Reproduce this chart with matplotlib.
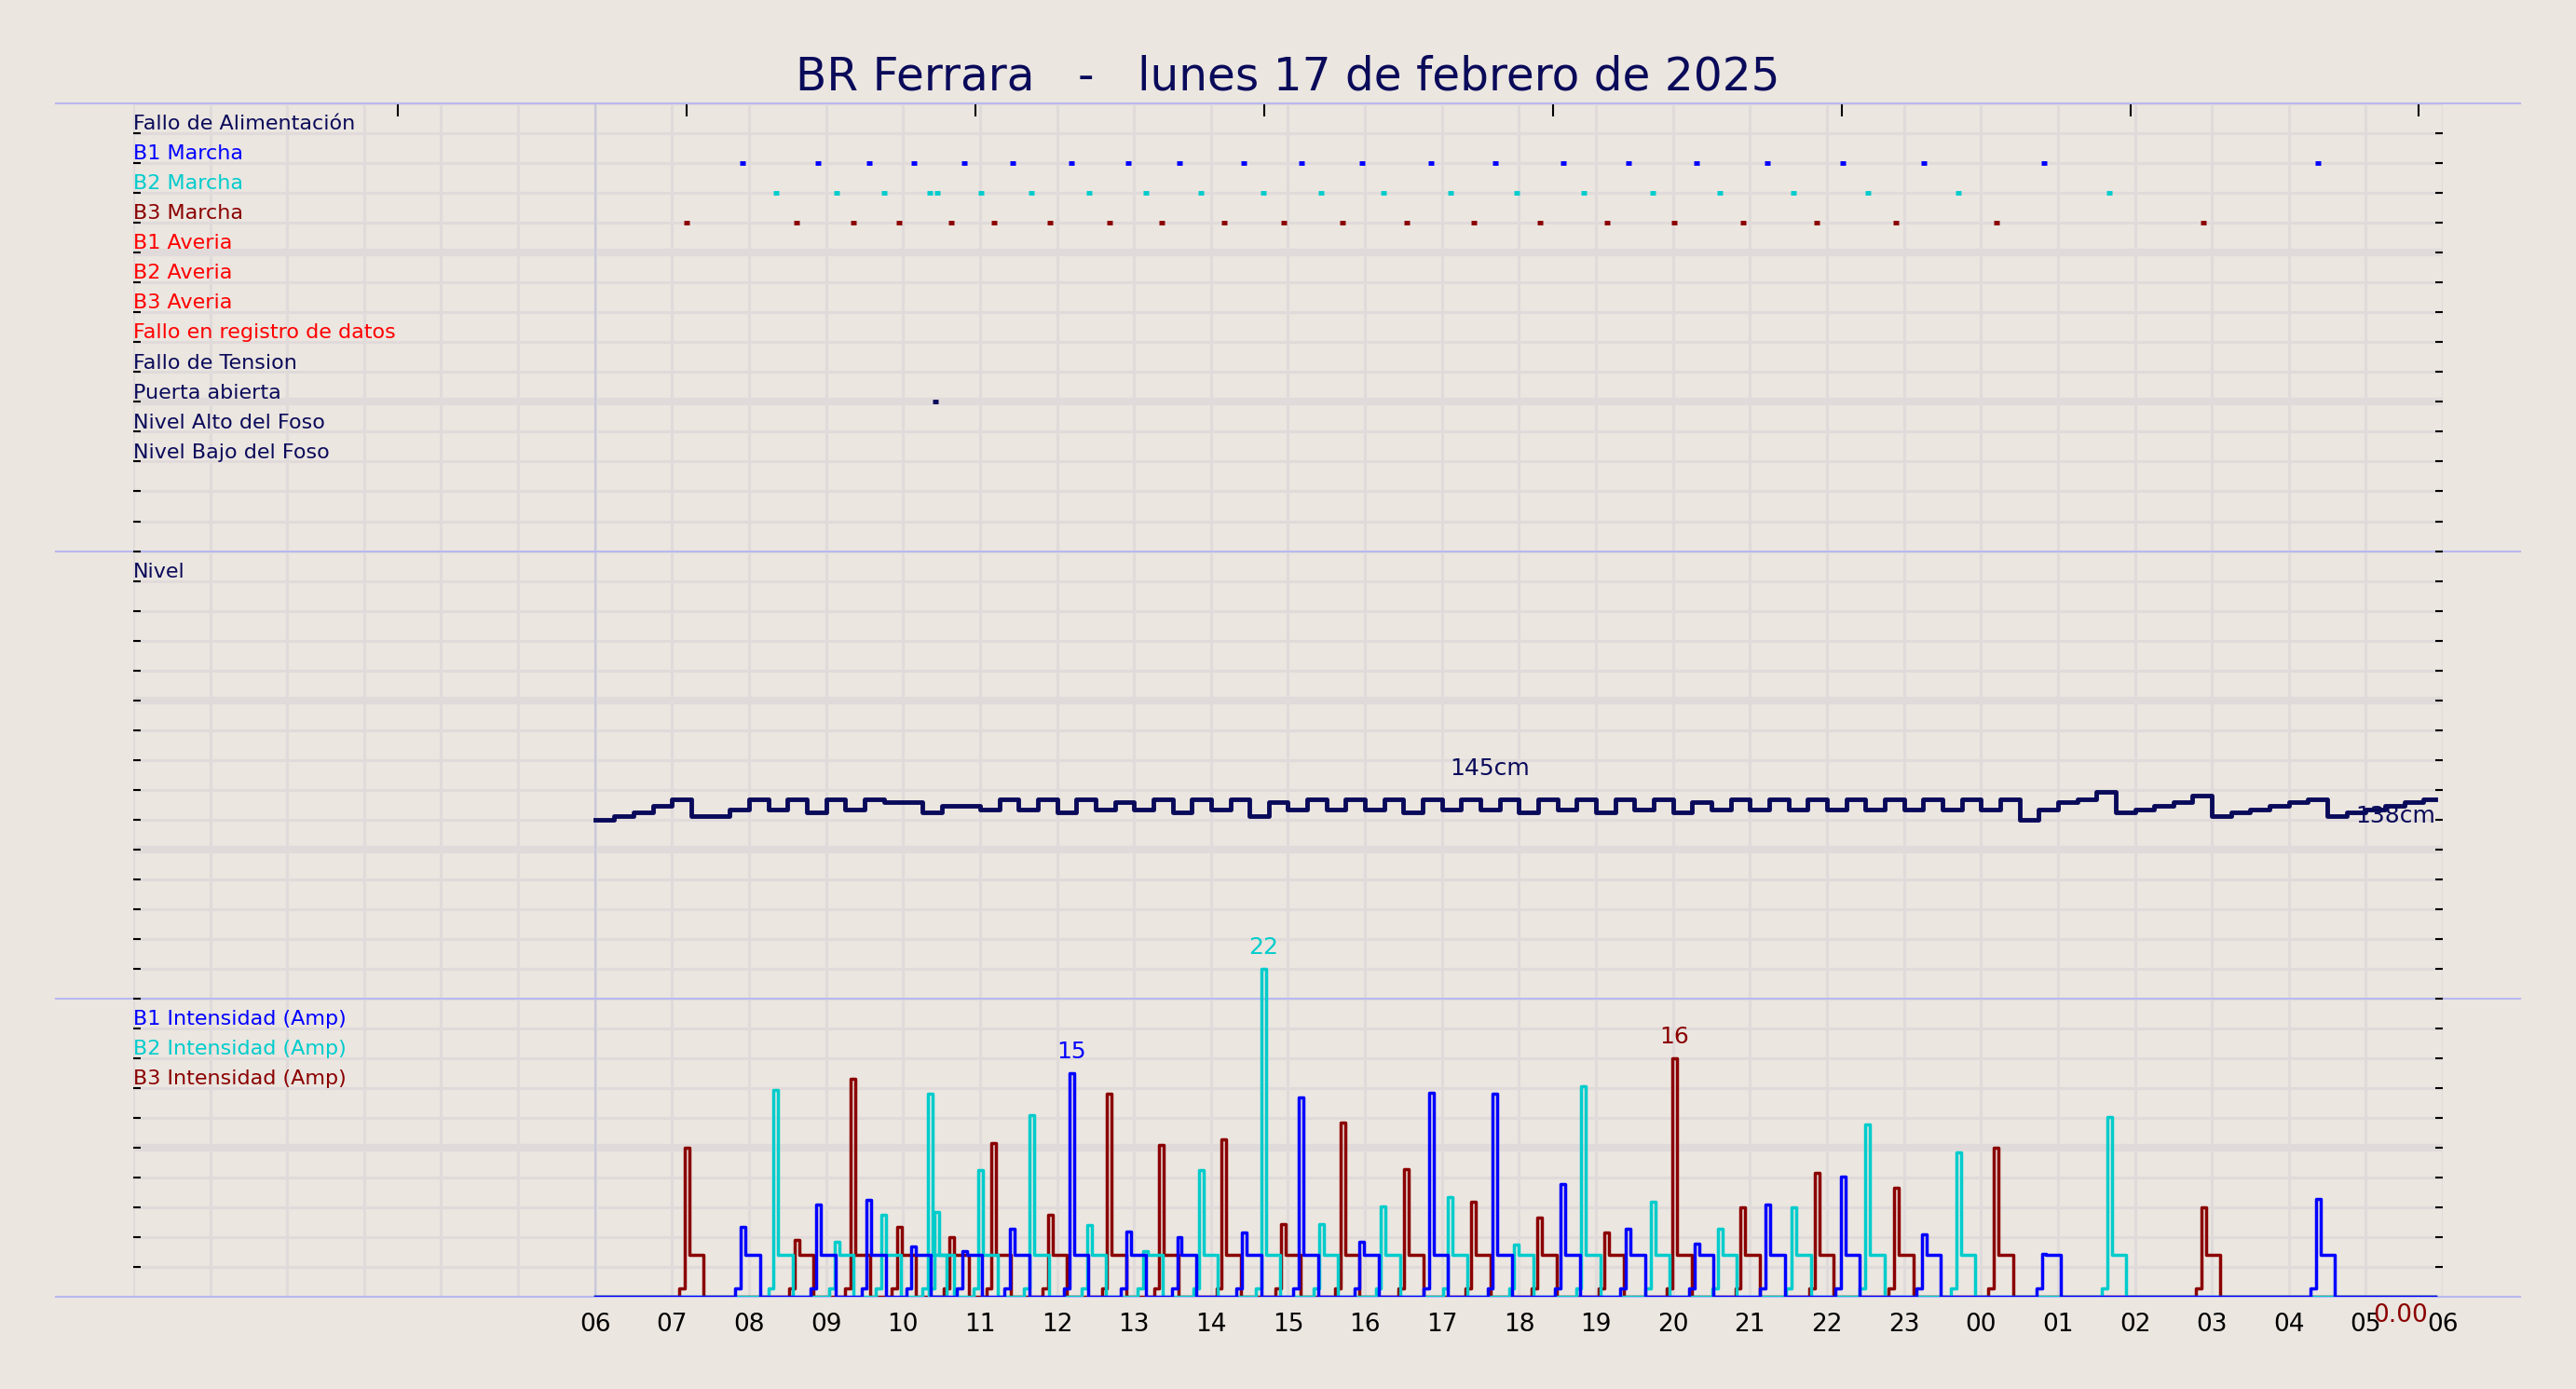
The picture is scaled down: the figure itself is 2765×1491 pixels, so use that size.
import matplotlib
matplotlib.use("Agg")
import matplotlib.pyplot as plt
import numpy as np

BG = "#ebe6e0"
GRID = "#e0dbda"
LAV = "#b8b8f0"
NAVY = "#0a0a5a"

title = "BR Ferrara   -   lunes 17 de febrero de 2025"
row_labels = ["Fallo de Alimentación", "B1 Marcha", "B2 Marcha", "B3 Marcha",
              "B1 Averia", "B2 Averia", "B3 Averia", "Fallo en registro de datos",
              "Fallo de Tension", "Puerta abierta", "Nivel Alto del Foso", "Nivel Bajo del Foso"]
row_colors = [NAVY, "blue", "#00cccc", "#8b0000", "red", "red", "red", "red",
              NAVY, NAVY, NAVY, NAVY]

hour_labels = ["06", "07", "08", "09", "10", "11", "12", "13", "14", "15", "16", "17", "18",
               "19", "20", "21", "22", "23", "00", "01", "02", "03", "04", "05", "06"]

# event times (hours since midnight of day 1; >24 = next day)
b1_on = [7.92, 8.90, 9.56, 10.14, 10.80, 11.42, 12.19, 12.93, 13.59, 14.43, 15.17, 15.96,
         16.86, 17.69, 18.57, 19.42, 20.31, 21.23, 22.21, 23.26, 24.82, 28.38]
b2_on = [8.35, 9.14, 9.75, 10.35, 10.44, 11.01, 11.67, 12.42, 13.15, 13.87, 14.68, 15.43,
         16.24, 17.11, 17.97, 18.84, 19.74, 20.61, 21.57, 22.53, 23.71, 25.67]
b3_on = [7.19, 8.62, 9.35, 9.95, 10.63, 11.18, 11.91, 12.68, 13.36, 14.17, 14.94, 15.71,
         16.54, 17.41, 18.27, 19.14, 20.02, 20.91, 21.87, 22.90, 24.20, 26.89]
puerta = [10.42]

b1_peak = [4.7, 6.2, 6.5, 3.4, 3.1, 4.6, 15, 4.4, 4.0, 4.3, 13.4, 3.7, 13.7, 13.6, 7.6, 4.6,
           3.6, 6.2, 8.1, 4.2, 2.9, 6.6]
b2_peak = [13.9, 3.7, 5.5, 13.6, 5.7, 8.5, 12.2, 4.8, 3.1, 8.5, 22, 4.9, 6.1, 6.7, 3.5, 14.1,
           6.4, 4.6, 6.0, 11.6, 9.7, 12.1]
b3_peak = [10.0, 3.8, 14.6, 4.7, 4.0, 10.3, 5.5, 13.6, 10.2, 10.6, 4.9, 11.7, 8.6, 6.4, 5.3,
           4.3, 16, 6.0, 8.3, 7.3, 10.0, 6.0]
plateau_amp = 2.8

level_cm = [136, 137, 138, 140, 142, 137, 137, 139, 142, 139, 142, 138, 142, 139, 142, 141,
            141, 138, 140, 140, 139, 142, 139, 142, 138, 142, 139, 141, 139, 142, 138, 142,
            139, 142, 137, 141, 139, 142, 139, 142, 139, 142, 138, 142, 139, 142, 139, 142,
            138, 142, 139, 142, 138, 142, 139, 142, 138, 141, 139, 142, 139, 142, 139, 142,
            139, 142, 139, 142, 139, 142, 139, 142, 139, 142, 136, 139, 141, 142, 144, 138,
            139, 140, 141, 143, 137, 138, 139, 140, 141, 142, 137, 138, 139, 140, 141, 142]
level_t0, level_dt = 6.0, 0.25

fig = plt.figure(figsize=(27.65, 14.91), dpi=100, facecolor=BG)
ax = fig.add_axes([0.0517, 0.0662, 0.8966, 0.8593])
ax.set_facecolor(BG)
ax.set_xlim(0, 30)
ax.set_ylim(0, 40)
for s in ax.spines.values():
    s.set_visible(False)

# grid
for h in range(0, 31):
    ax.axvline(h, color=GRID, lw=2.2, zorder=0)
for k in range(0, 41):
    lw = 6 if k in (5, 15, 20, 30, 35) else 2.2
    ax.axhline(k, color=GRID, lw=lw, zorder=0)
ax.axvline(6, color="#c8c8dc", lw=1.5, zorder=0.5)
for k in (0, 10, 25, 40):
    ax.plot([-0.0334, 1.0334], [k, k], color=LAV, lw=1.5, transform=ax.get_yaxis_transform(),
            clip_on=False, zorder=1)

# ticks
ax.set_xticks(range(6, 31))
ax.set_xticklabels(hour_labels, fontsize=19)
ax.tick_params(axis="x", length=0, pad=12)
ax.set_yticks(range(1, 40))
ax.set_yticklabels([])
ax.tick_params(axis="y", direction="in", left=True, right=True, length=6, width=1.5)
topax = ax.secondary_xaxis("top")
topax.set_xticks([3.44 + 3.75 * i for i in range(8)])
topax.set_xticklabels([])
topax.tick_params(direction="in", length=10, width=1.5)
topax.spines["top"].set_visible(False)

# status rows
for i, (lab, c) in enumerate(zip(row_labels, row_colors)):
    ax.text(0.0, 39 - i + 0.12, lab, color=c, fontsize=16, va="baseline", ha="left")
ms_kw = dict(marker="_", ms=5, mew=3.5, ls="none")
ax.plot(b1_on, [38] * len(b1_on), color="blue", **ms_kw)
ax.plot(b2_on, [37] * len(b2_on), color="#00cccc", **ms_kw)
ax.plot(b3_on, [36] * len(b3_on), color="#8b0000", **ms_kw)
ax.plot(puerta, [30] * len(puerta), color=NAVY, **ms_kw)

# level
ax.text(0.0, 24.12, "Nivel", color=NAVY, fontsize=16, va="baseline", ha="left")
lvl_y = 16.0 + (np.array(level_cm + [level_cm[-1]]) - 136) * 0.116
lvl_t = level_t0 + level_dt * np.arange(len(lvl_y))
lvl_t[-1] = 29.9
ax.step(lvl_t, lvl_y, where="post", color=NAVY, lw=3.5, zorder=3)
ax.text(17.1, 16.0 + 9 * 0.116 + 0.45, "145cm", color=NAVY, fontsize=18, zorder=4)
ax.text(29.9, 16.0 + 2 * 0.116 - 0.1, "138cm", color=NAVY, fontsize=18, ha="right", va="center", zorder=4)

# currents
ax.text(0.0, 9.12, "B1 Intensidad (Amp)", color="blue", fontsize=16, va="baseline")
ax.text(0.0, 8.12, "B2 Intensidad (Amp)", color="#00cccc", fontsize=16, va="baseline")
ax.text(0.0, 7.12, "B3 Intensidad (Amp)", color="#8b0000", fontsize=16, va="baseline")
SC = 0.5

def wave(times, peaks):
    t = [6.0]; v = [0.0]
    for tt, pp in zip(times, peaks):
        t += [tt - 0.1, tt - 0.03, tt + 0.03, tt + 0.22]
        v += [0.6, pp, plateau_amp, 0.0]
    t.append(29.9); v.append(0.0)
    return np.array(t), np.array(v) * SC

for times, peaks, c in ((b3_on, b3_peak, "#8b0000"), (b2_on, b2_peak, "#00cccc"), (b1_on, b1_peak, "blue")):
    t, v = wave(times, peaks)
    ax.step(t, v, where="post", color=c, lw=2.5, zorder=3)

ax.text(b1_on[6], 15 * SC + 0.35, "15", color="blue", fontsize=18, ha="center", va="bottom")
ax.text(b2_on[10], 22 * SC + 0.35, "22", color="#00cccc", fontsize=18, ha="center", va="bottom", clip_on=False)
ax.text(b3_on[16], 16 * SC + 0.35, "16", color="#8b0000", fontsize=18, ha="center", va="bottom")
ax.text(29.45, -0.6, "0.00", color="#8b0000", fontsize=19, ha="center", va="center")

fig.text(0.5, 0.945, title, color=NAVY, fontsize=35, ha="center", va="center")

fig.savefig("out.png", dpi=100, facecolor=BG)
